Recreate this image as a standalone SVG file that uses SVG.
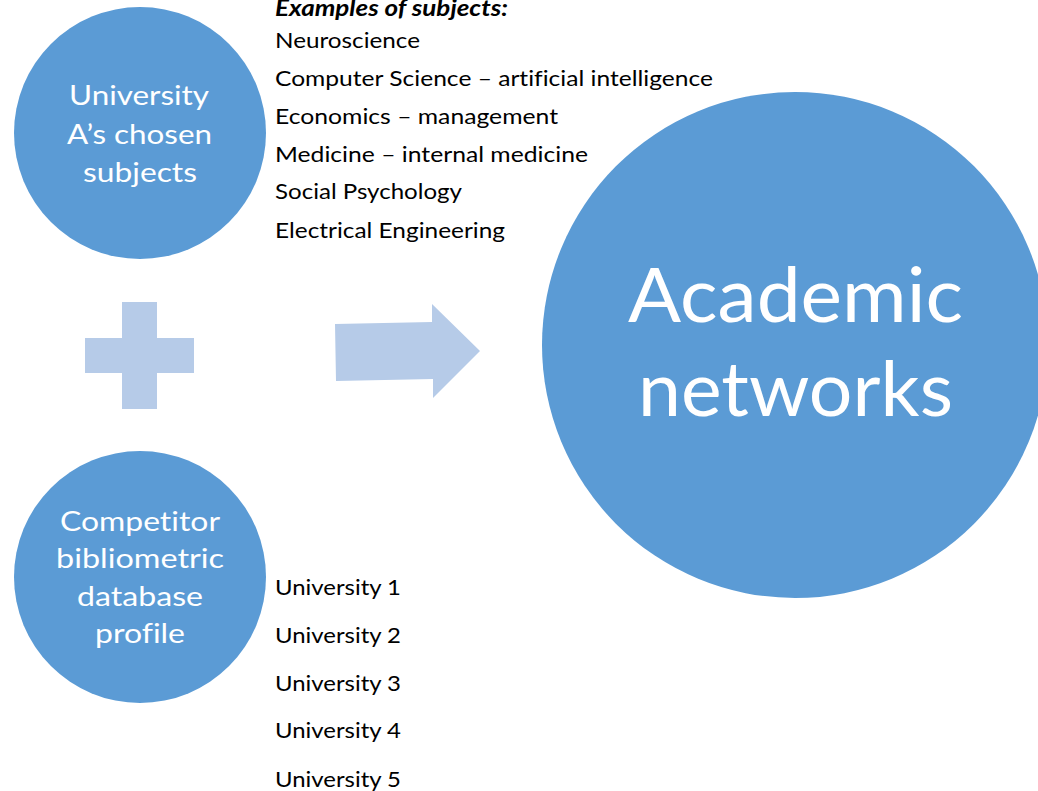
<svg xmlns="http://www.w3.org/2000/svg" width="1038" height="791" viewBox="0 0 1038 791">
<style>
.circ{fill:#5B9BD5}
.shape{fill:#B6CBE8}
.ct{font-family:Lato,"Open Sans","Liberation Sans",sans-serif;fill:#FFFFFF;font-variant-ligatures:none}
.lt{font-family:Lato,"Open Sans","Liberation Sans",sans-serif;fill:#000000;font-size:22px;font-variant-ligatures:none}
.hd{font-weight:bold;font-style:italic}
</style>
<rect width="1038" height="791" fill="#FFFFFF"/>
<g id="node-subjects">
<circle class="circ" cx="140" cy="133" r="126"/>
<text class="ct" font-size="27" x="69" y="105" textLength="140" lengthAdjust="spacingAndGlyphs">University</text>
<text class="ct" font-size="27" x="67" y="144" textLength="145" lengthAdjust="spacingAndGlyphs">A’s chosen</text>
<text class="ct" font-size="27" x="83" y="182" textLength="114" lengthAdjust="spacingAndGlyphs">subjects</text>
</g>
<g id="node-competitor">
<circle class="circ" cx="140" cy="577" r="126"/>
<text class="ct" font-size="27" x="60" y="531" textLength="160" lengthAdjust="spacingAndGlyphs">Competitor</text>
<text class="ct" font-size="27" x="56" y="568" textLength="168" lengthAdjust="spacingAndGlyphs">bibliometric</text>
<text class="ct" font-size="27" x="77" y="606" textLength="126" lengthAdjust="spacingAndGlyphs">database</text>
<text class="ct" font-size="27" x="95" y="643" textLength="90" lengthAdjust="spacingAndGlyphs">profile</text>
</g>
<g id="node-networks">
<circle class="circ" cx="795" cy="345" r="253"/>
<text class="ct" font-size="76" x="628" y="322" textLength="335" lengthAdjust="spacingAndGlyphs">Academic</text>
<text class="ct" font-size="76" x="638" y="416" textLength="315" lengthAdjust="spacingAndGlyphs">networks</text>
</g>
<g id="subjects-list">
<text class="lt hd" x="275" y="16" textLength="233" lengthAdjust="spacingAndGlyphs">Examples of subjects:</text>
<text class="lt" x="275" y="48" textLength="145" lengthAdjust="spacingAndGlyphs">Neuroscience</text>
<text class="lt" x="275" y="86" textLength="438" lengthAdjust="spacingAndGlyphs">Computer Science – artificial intelligence</text>
<text class="lt" x="275" y="124" textLength="283" lengthAdjust="spacingAndGlyphs">Economics – management</text>
<text class="lt" x="275" y="162" textLength="313" lengthAdjust="spacingAndGlyphs">Medicine – internal medicine</text>
<text class="lt" x="275" y="199" textLength="187" lengthAdjust="spacingAndGlyphs">Social Psychology</text>
<text class="lt" x="275" y="238" textLength="230" lengthAdjust="spacingAndGlyphs">Electrical Engineering</text>
</g>
<g id="university-list">
<text class="lt" x="275" y="595" textLength="126" lengthAdjust="spacingAndGlyphs">University 1</text>
<text class="lt" x="275" y="643" textLength="126" lengthAdjust="spacingAndGlyphs">University 2</text>
<text class="lt" x="275" y="691" textLength="126" lengthAdjust="spacingAndGlyphs">University 3</text>
<text class="lt" x="275" y="738" textLength="126" lengthAdjust="spacingAndGlyphs">University 4</text>
<text class="lt" x="275" y="787" textLength="126" lengthAdjust="spacingAndGlyphs">University 5</text>
</g>
<g id="connectors">
<polygon class="shape" points="122,302 157,302 157,338 194,338 194,373 157,373 157,409 122,409 122,373 85,373 85,338 122,338"/>
<polygon class="shape" points="335,324 432,322 432,304 480,351 433,398 433,379 336,381"/>
</g>
</svg>
